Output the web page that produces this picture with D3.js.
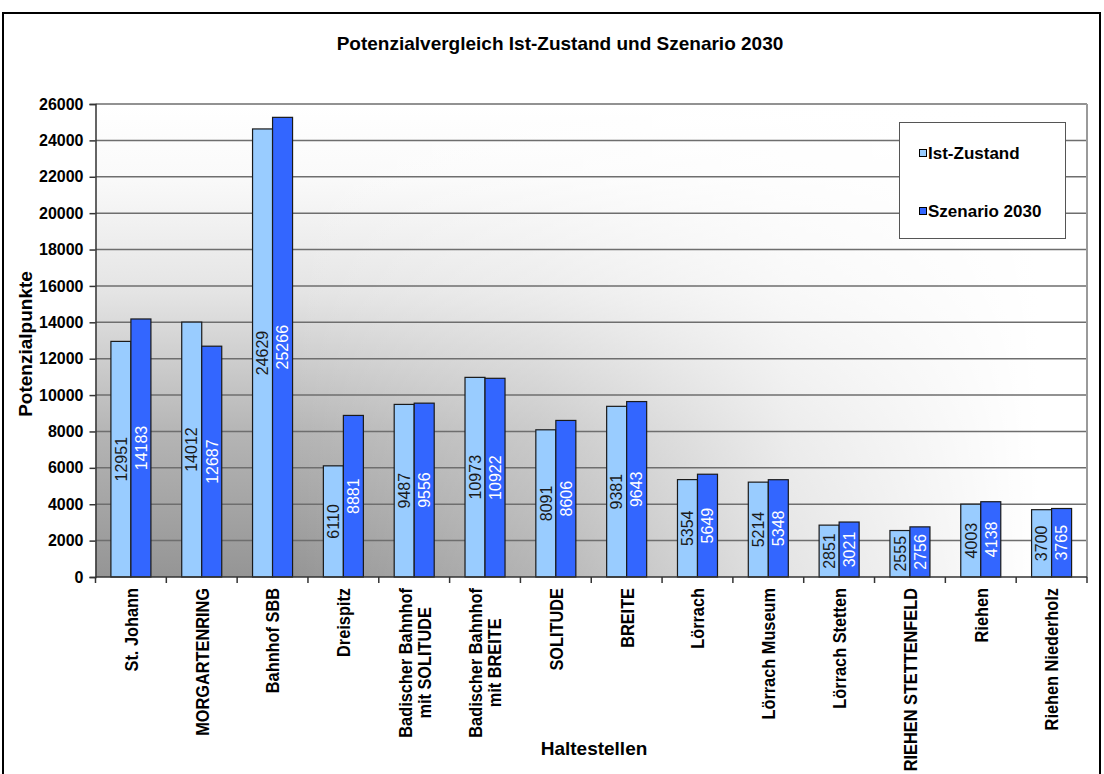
<!DOCTYPE html>
<html>
<head>
<meta charset="utf-8">
<script src="https://cdn.jsdelivr.net/npm/d3@7"></script>
<style>
  body { margin: 0; background: #fff; }
  text { font-family: "Liberation Sans", Arial, sans-serif; }
</style>
</head>
<body>
<svg id="chart" width="1104" height="774"></svg>
<script>
// data
let categories = [
    ['St. Johann'],
    ['MORGARTENRING'],
    ['Bahnhof SBB'],
    ['Dreispitz'],
    ['Badischer Bahnhof', 'mit SOLITUDE'],
    ['Badischer Bahnhof', 'mit BREITE'],
    ['SOLITUDE'],
    ['BREITE'],
    ['Lörrach'],
    ['Lörrach Museum'],
    ['Lörrach Stetten'],
    ['RIEHEN STETTENFELD'],
    ['Riehen'],
    ['Riehen Niederholz']
];
let seriesNames = ['Ist-Zustand', 'Szenario 2030'];
let istZustand = [12951, 14012, 24629, 6110, 9487, 10973, 8091, 9381, 5354, 5214, 2851, 2555, 4003, 3700];
let szenario2030 = [14183, 12687, 25266, 8881, 9556, 10922, 8606, 9643, 5649, 5348, 3021, 2756, 4138, 3765];
let yTicks = [0, 2000, 4000, 6000, 8000, 10000, 12000, 14000, 16000, 18000, 20000, 22000, 24000, 26000];

let colors = ['#99ccff', '#3366ff'];
let labelColors = ['#1a1a1a', '#ffffff'];

let svg = d3.select('#chart');

let plot = { left: 95.5, right: 1087, top: 104, bottom: 577 };

let keys = categories.map((d) => d.join(' '));

let x = d3.scaleBand()
    .domain(keys)
    .range([plot.left, plot.right])
    .padding(0);

let xs = d3.scaleBand()
    .domain(seriesNames)
    .range([0, x.bandwidth()])
    .paddingInner(0)
    .paddingOuter(0.77);

let y = d3.scaleLinear()
    .domain([0, 26000])
    .range([plot.bottom, plot.top]);

// outer frame
svg.append('rect')
    .attr('x', 3).attr('y', 13)
    .attr('width', 1097).attr('height', 800)
    .attr('fill', '#fff')
    .attr('stroke', '#000')
    .attr('stroke-width', 2);

// background gradients
let defs = svg.append('defs');
let vg = defs.append('linearGradient')
    .attr('id', 'vgrad')
    .attr('x1', 0).attr('y1', 0).attr('x2', 0).attr('y2', 1);
[[0, '#ffffff'], [0.15, '#fafafa'], [0.4, '#e4e4e4'], [0.7, '#b4b4b4'], [1, '#959595']].forEach(function(s) {
    vg.append('stop').attr('offset', s[0]).attr('stop-color', s[1]);
});
let hg = defs.append('linearGradient')
    .attr('id', 'hgrad')
    .attr('x1', 0).attr('y1', 0).attr('x2', 1).attr('y2', 0);
[[0, 0], [0.2, 0], [0.45, 0.3], [0.7, 0.75], [0.95, 1], [1, 1]].forEach(function(s) {
    hg.append('stop').attr('offset', s[0]).attr('stop-color', '#fff').attr('stop-opacity', s[1]);
});

['vgrad', 'hgrad'].forEach(function(id) {
    svg.append('rect')
	.attr('x', plot.left).attr('y', plot.top)
	.attr('width', plot.right - plot.left)
	.attr('height', plot.bottom - plot.top)
	.attr('fill', 'url(#' + id + ')');
});

// gridlines
svg.append('g')
    .selectAll('line')
    .data(yTicks.slice(1))
    .enter().append('line')
    .attr('x1', plot.left).attr('x2', plot.right)
    .attr('y1', (d) => y(d)).attr('y2', (d) => y(d))
    .attr('stroke', '#6e6e6e')
    .attr('stroke-width', 1.5);

// right border of plot area
svg.append('line')
    .attr('x1', plot.right).attr('x2', plot.right)
    .attr('y1', plot.top).attr('y2', plot.bottom)
    .attr('stroke', '#9a9a9a')
    .attr('stroke-width', 2);

// bars
let series = [istZustand, szenario2030];
series.forEach(function(values, si) {
    let g = svg.append('g').attr('class', 'series-' + si);
    g.selectAll('rect')
	.data(values)
	.enter().append('rect')
	.attr('x', (d, i) => x(keys[i]) + xs(seriesNames[si]))
	.attr('y', (d) => y(d))
	.attr('width', xs.bandwidth())
	.attr('height', (d) => y(0) - y(d))
	.attr('fill', colors[si])
	.attr('stroke', '#1a1a1a')
	.attr('stroke-width', 1.2);

    g.selectAll('text')
	.data(values)
	.enter().append('text')
	.attr('transform', function(d, i) {
	    let cx = x(keys[i]) + xs(seriesNames[si]) + xs.bandwidth() / 2;
	    let cy = (y(d) + y(0)) / 2;
	    return 'translate(' + cx + ',' + cy + ') rotate(-90)';
	})
	.attr('text-anchor', 'middle')
	.attr('dy', '0.36em')
	.style('font-size', '16px')
	.attr('fill', labelColors[si])
	.text((d) => d);
});

// y axis
let yAxis = svg.append('g')
    .attr('transform', 'translate(' + plot.left + ',0)')
    .call(d3.axisLeft(y).tickValues(yTicks).tickSize(6).tickPadding(6).tickFormat(d3.format('d')));
yAxis.select('.domain').attr('stroke', '#333').attr('stroke-width', 1.5);
yAxis.selectAll('.tick line').attr('stroke', '#333').attr('stroke-width', 1.5);
yAxis.selectAll('.tick text')
    .style('font-family', '"Liberation Sans", Arial, sans-serif')
    .style('font-size', '16px')
    .style('font-weight', 'bold')
    .attr('fill', '#000');

// x axis line and ticks at category boundaries
svg.append('line')
    .attr('x1', plot.left).attr('x2', plot.right)
    .attr('y1', plot.bottom).attr('y2', plot.bottom)
    .attr('stroke', '#333')
    .attr('stroke-width', 1.5);
svg.append('g')
    .selectAll('line')
    .data(keys.concat(['end']))
    .enter().append('line')
    .attr('x1', (d, i) => i < keys.length ? x(d) : plot.right)
    .attr('x2', (d, i) => i < keys.length ? x(d) : plot.right)
    .attr('y1', plot.bottom).attr('y2', plot.bottom + 6)
    .attr('stroke', '#333')
    .attr('stroke-width', 1.5);

// x tick labels, rotated and squeezed like a narrow font, block aligned to the top
let labelTop = 588,
    lineH = 19;
categories.forEach(function(lines, i) {
    let g = svg.append('g')
	.attr('transform', 'translate(' + (x(keys[i]) + x.bandwidth() / 2) + ',' + labelTop + ') rotate(-90) scale(0.86,1)');
    let texts = lines.map(function(line, li) {
	return g.append('text')
	    .attr('text-anchor', 'middle')
	    .attr('y', (li - (lines.length - 1) / 2) * lineH)
	    .attr('dy', '0.36em')
	    .style('font-size', '19px')
	    .style('font-weight', 'bold')
	    .text(line);
    });
    let maxLen = d3.max(texts, (t) => t.node().getComputedTextLength());
    texts.forEach((t) => t.attr('x', -maxLen / 2));
});

// titles
svg.append('text')
    .attr('x', 560).attr('y', 50)
    .attr('text-anchor', 'middle')
    .style('font-size', '19px')
    .style('font-weight', 'bold')
    .text('Potenzialvergleich Ist-Zustand  und Szenario 2030');

svg.append('text')
    .attr('transform', 'translate(25,344) rotate(-90)')
    .attr('text-anchor', 'middle')
    .attr('dy', '0.36em')
    .style('font-size', '19px')
    .style('font-weight', 'bold')
    .text('Potenzialpunkte');

svg.append('text')
    .attr('x', 594).attr('y', 755)
    .attr('text-anchor', 'middle')
    .style('font-size', '19px')
    .style('font-weight', 'bold')
    .text('Haltestellen');

// legend
let legend = svg.append('g');
legend.append('rect')
    .attr('x', 899.5).attr('y', 122.5)
    .attr('width', 166).attr('height', 116)
    .attr('fill', '#fff')
    .attr('stroke', '#555')
    .attr('stroke-width', 1);
let legendY = [153, 211];
seriesNames.forEach(function(name, i) {
    legend.append('rect')
	.attr('x', 919.5).attr('y', legendY[i] - 3.5)
	.attr('width', 7).attr('height', 7)
	.attr('fill', colors[i])
	.attr('stroke', '#000')
	.attr('stroke-width', 1);
    legend.append('text')
	.attr('x', 928).attr('y', legendY[i])
	.attr('dy', '0.36em')
	.style('font-size', '17px')
	.style('font-weight', 'bold')
	.text(name);
});
</script>
</body>
</html>
